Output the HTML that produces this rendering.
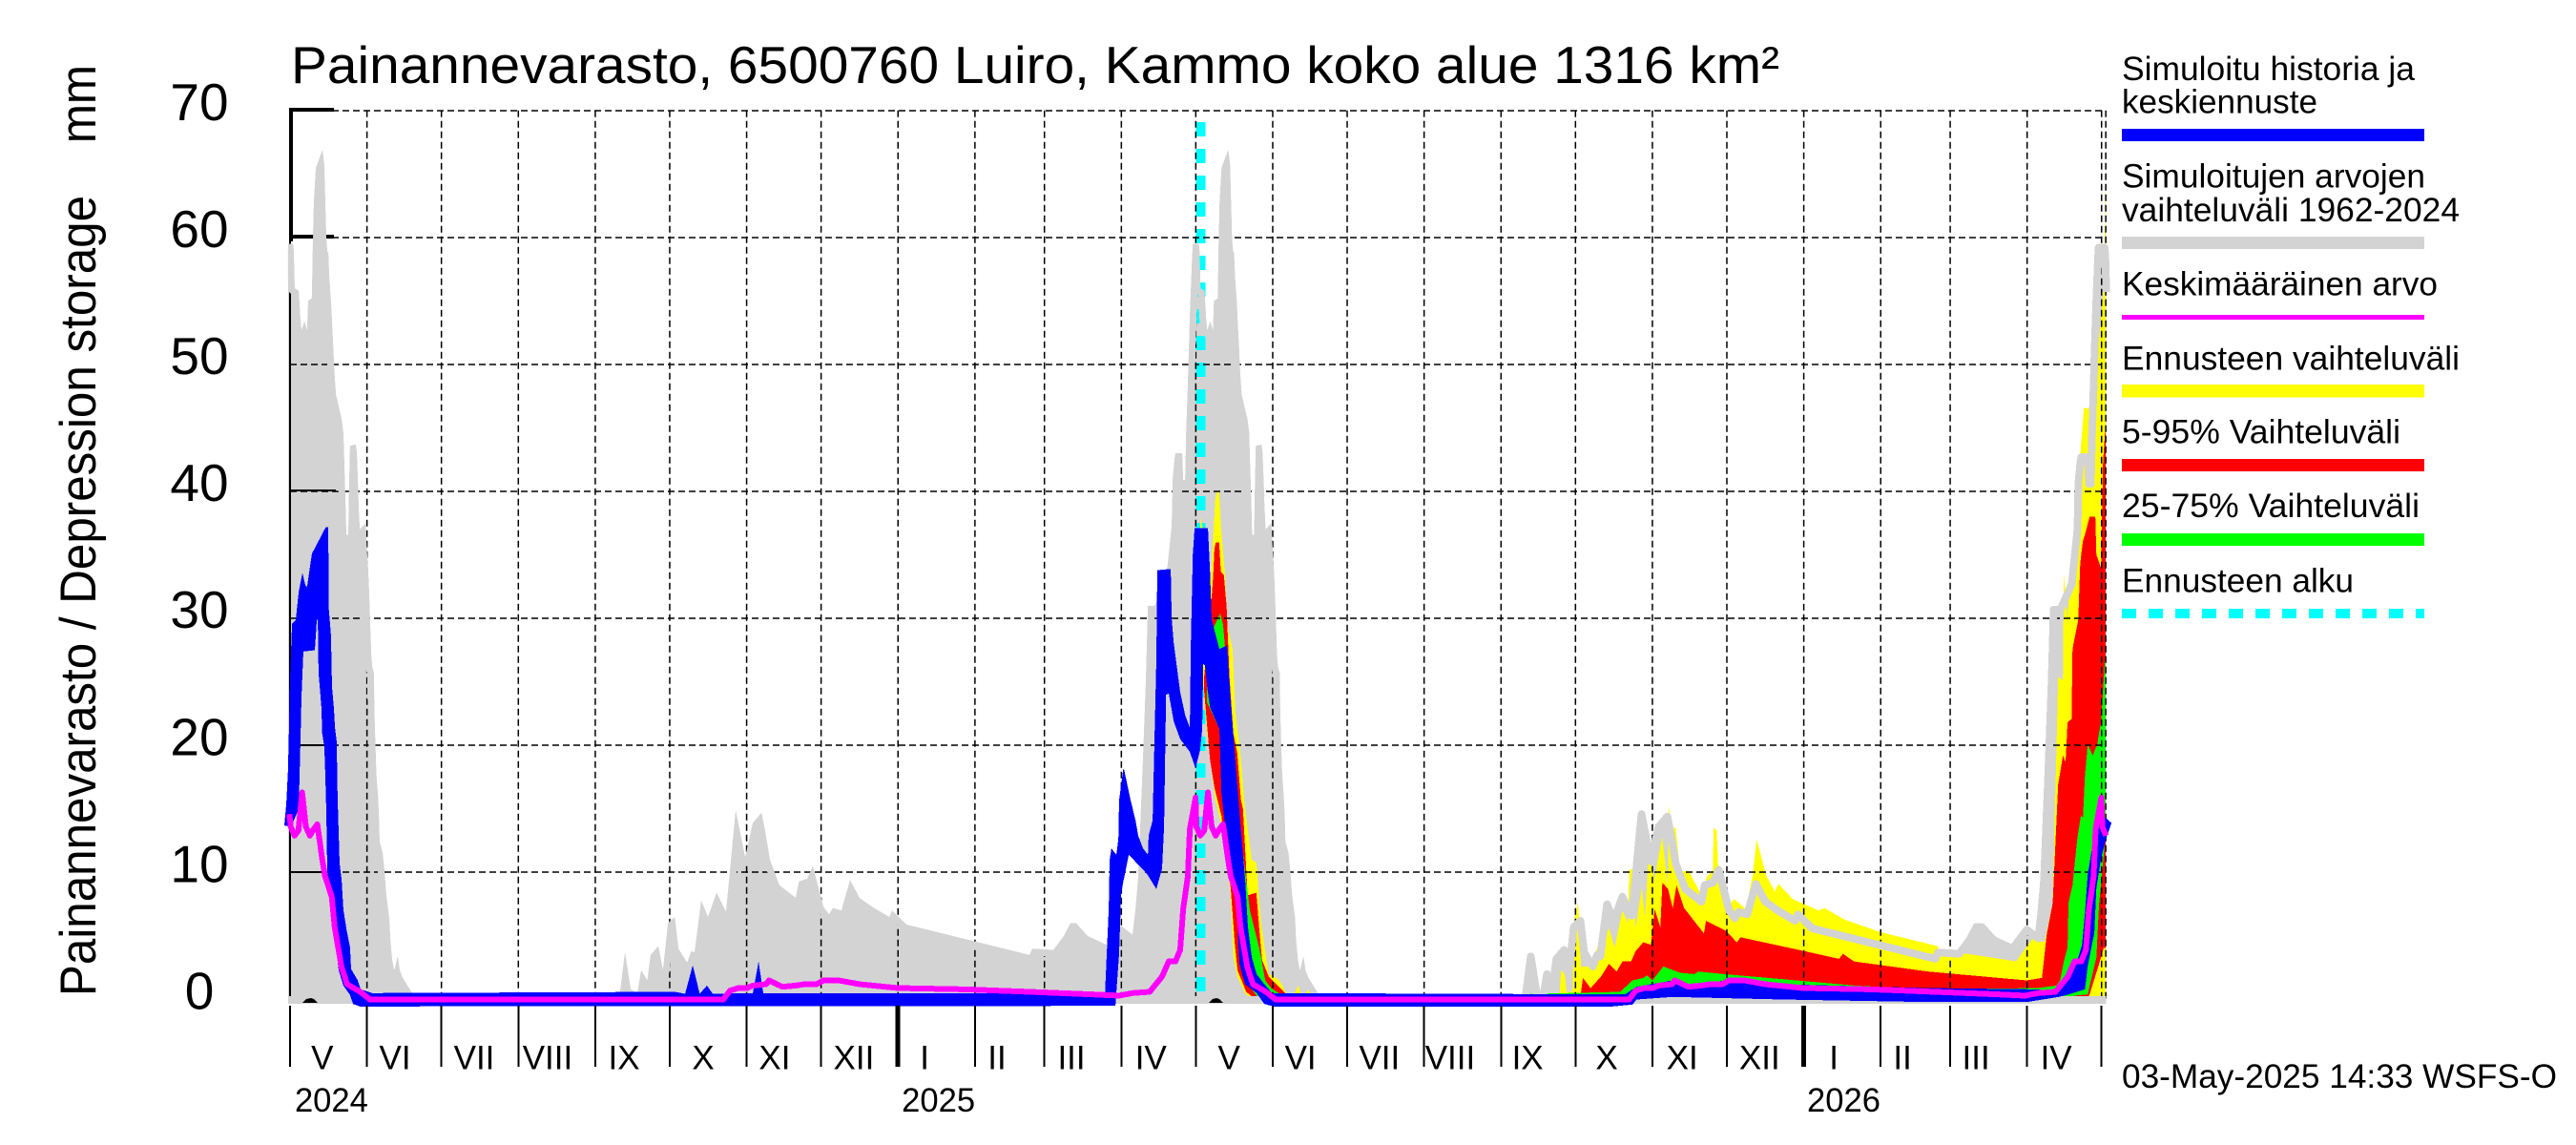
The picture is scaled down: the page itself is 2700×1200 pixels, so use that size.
<!DOCTYPE html>
<html lang="fi">
<head>
<meta charset="utf-8">
<title>Painannevarasto, 6500760 Luiro</title>
<style>
html,body{margin:0;padding:0;background:#fff;}
svg{display:block;}
text{font-family:"Liberation Sans",Arial,sans-serif;fill:#000;white-space:pre;}
.mark{shape-rendering:crispEdges;}
</style>
</head>
<body>
<svg id="chart" xmlns="http://www.w3.org/2000/svg" width="2700" height="1200" viewBox="0 0 2700 1200">
  <rect x="0" y="0" width="2700" height="1200" fill="#fff"/>
  <defs><clipPath id="climClip"><path id="climClipPath"/></clipPath></defs>

  <path id="greyFill" class="mark" fill="#d3d3d3"/>
  <line id="forecastStart" class="mark" stroke="#00ffff" stroke-width="10" stroke-dasharray="15 13"/>
  <path id="yellowFill" class="mark" fill="#ffff00"/>
  <path id="redFill" class="mark" fill="#ff0000"/>
  <path id="greenFill" class="mark" fill="#00ff00"/>
  <g id="grid"></g>
  <g id="frameMarks" class="mark" stroke="#000" fill="none">
    <line x1="304" y1="115" x2="350" y2="115" stroke-width="4"/>
    <line x1="305" y1="113" x2="305" y2="253" stroke-width="4"/>
    <line x1="304" y1="248" x2="350" y2="248" stroke-width="4"/>
    <line x1="304" y1="253" x2="304" y2="1047" stroke-width="2"/>
    <line x1="304" y1="514" x2="352" y2="514" stroke-width="2"/>
    <line x1="315" y1="781" x2="342" y2="781" stroke-width="2"/>
    <line x1="304" y1="914" x2="342" y2="914" stroke-width="2"/>
  </g>
  <path id="greyStrokeA" class="mark" clip-path="url(#climClip)" fill="none" stroke="#d3d3d3" stroke-width="14" stroke-linejoin="round"/>
  <path id="greyStrokeB" class="mark" transform="translate(0,4)" fill="none" stroke="#d3d3d3" stroke-width="8" stroke-linejoin="round"/>
  <path id="greyLow" class="mark" fill="none" stroke="#d3d3d3" stroke-width="8"/>
  <path d="M317 1051 L321 1047 L326 1046 L329 1047 L333 1051 Z" fill="#000"/>
  <path d="M1267 1051 L1271 1047 L1275 1046 L1278 1047 L1282 1051 Z" fill="#000"/>
  <path id="blueFill" class="mark" fill="#0000ff"/>
  <path id="meanLine" class="mark" fill="none" stroke="#ff00ff" stroke-width="6" stroke-linejoin="round"/>
  <g id="xTicks"></g>
  <g id="yLabels"></g>
  <g id="monthLabels"></g>
  <g id="yearLabels"></g>

  <text x="305" y="87" font-size="55" textLength="1560" lengthAdjust="spacingAndGlyphs">Painannevarasto, 6500760 Luiro, Kammo koko alue 1316 km²</text>
  <text transform="translate(100,1044) rotate(-90)" font-size="53" textLength="976" lengthAdjust="spacingAndGlyphs" xml:space="preserve">Painannevarasto / Depression storage    mm</text>
  <text x="2224" y="1140" font-size="35" textLength="456" lengthAdjust="spacingAndGlyphs">03-May-2025 14:33 WSFS-O</text>

  <g font-size="35">
    <text x="2224" y="84" textLength="307" lengthAdjust="spacingAndGlyphs">Simuloitu historia ja</text>
    <text x="2224" y="118.5" textLength="205" lengthAdjust="spacingAndGlyphs">keskiennuste</text>
    <rect x="2224" y="135" width="317" height="13" fill="#0000ff"/>
    <text x="2224" y="196.5" textLength="318" lengthAdjust="spacingAndGlyphs">Simuloitujen arvojen</text>
    <text x="2224" y="232" textLength="354" lengthAdjust="spacingAndGlyphs">vaihteluväli 1962-2024</text>
    <rect x="2224" y="248" width="317" height="13" fill="#d3d3d3"/>
    <text x="2224" y="309.5" textLength="331" lengthAdjust="spacingAndGlyphs">Keskimääräinen arvo</text>
    <rect x="2224" y="330" width="317" height="5" fill="#ff00ff"/>
    <text x="2224" y="387.5" textLength="354" lengthAdjust="spacingAndGlyphs">Ennusteen vaihteluväli</text>
    <rect x="2224" y="403" width="317" height="13.5" fill="#ffff00"/>
    <text x="2224" y="464.5" textLength="292" lengthAdjust="spacingAndGlyphs">5-95% Vaihteluväli</text>
    <rect x="2224" y="481" width="317" height="13" fill="#ff0000"/>
    <text x="2224" y="542" textLength="312" lengthAdjust="spacingAndGlyphs">25-75% Vaihteluväli</text>
    <rect x="2224" y="559" width="317" height="13" fill="#00ff00"/>
    <text x="2224" y="620.5" textLength="243" lengthAdjust="spacingAndGlyphs">Ennusteen alku</text>
    <line class="mark" x1="2224" y1="643" x2="2541" y2="643" stroke="#00ffff" stroke-width="10" stroke-dasharray="15 13"/>
  </g>
</svg>

<script>
// ---- Axis labels and ticks ----
const yTickValues = [0, 10, 20, 30, 40, 50, 60, 70];
const monthStartDays = [0, 31, 61, 92, 123, 153, 184, 214, 245, 276, 304, 335, 365, 396, 426, 457, 488, 518, 549, 579, 610, 641, 669, 700, 730];
const yearStartDays = [245, 610];
const monthLabels = ["V", "VI", "VII", "VIII", "IX", "X", "XI", "XII", "I", "II", "III", "IV", "V", "VI", "VII", "VIII", "IX", "X", "XI", "XII", "I", "II", "III", "IV"];
const monthLabelDays = [13, 42.3, 74.2, 103.8, 134.6, 166.5, 195.3, 227.2, 255.7, 284.9, 314.9, 346.9, 378.4, 407.2, 439, 467.5, 498.7, 530.6, 561, 592.2, 622.1, 649.8, 679.4, 711.7];
const yearLabels = ["2024", "2025", "2026"];
const yearLabelDays = [1.9, 246.5, 611.3];
const forecastStartDay = [367];

// ---- Climatological maximum, one annual cycle (days since 1 May) ----
const climDays = [-0.8,1.2,1.5,1.9,3.5,4.2,4.6,5.8,6.9,7.3,8.8,9.2,9.6,10.4,13.1,13.8,14.2,14.6,15,15.4,15.8,16.5,16.9,17.3,17.7,18.1,18.5,19.6,20.8,21.5,21.9,22.3,22.7,23.5,23.8,24.2,26.5,26.9,27.3,27.7,28.1,30.4,31.1,31.5,31.9,32.3,32.7,33.1,33.8,34,34.4,34.8,35.4,35.8,36.1,37.3,38.1,38.8,40,40.4,41.1,41.9,42.3,43.4,44.2,45.4,47.3,49.2,50,132.7,132.9,135,137.3,140,141.5,144,145.3,148.4,150.3,152.3,155,156.5,160,161.7,163,165.7,168.4,171.9,175.7,179.6,183.4,186.5,190,191.5,193.4,197.2,203.8,205.1,208.4,210.7,214.9,217.2,218.8,222.2,225.7,229.5,234.5,241.5,242.6,248.4,298,299.1,307.6,311.8,314.5,316.8,321.4,329.1,334.9,339.5,340.7,341.8,342.6,343.7,344.9,345.7,348.4,353,355.3,355.7,356.4,356.8,359.5,359.9,360.7,360.9,361.1,361.8,362.2,362.6,363,363.4,363.8];
const climValues = [59.5,59.5,58.9,56,55.8,53.5,52.7,53.4,52.7,55,55.2,59.5,62.8,65.5,66.9,65.7,62.8,60,58.9,58.8,56.9,55,53.3,51.8,50.1,48.7,47.6,46.7,45.7,44.6,42,39.4,36.6,36.6,40.3,43.6,43.7,43.1,41,38.7,37,37.5,35,33.8,31.9,29.6,27.2,26.2,25.7,22.8,20,17.7,16.1,14.6,12.4,11.6,10,8.2,6.4,4.7,3.2,2.3,2.5,3.4,2.3,1.7,1.1,0.5,0,0,0.5,3.7,0.8,0.5,2.3,1.5,3.5,4.2,2.3,6,6.5,4,2.9,3.8,3.7,7.8,6.5,8.4,6.9,14.9,11.2,13.9,14.7,13.2,11,9,8,9.3,9.5,10.5,7.3,6.7,7.2,7,9.4,8,7.3,6.5,7,5.9,3.5,4,3.9,5,6,6,5,4.3,5.8,5.1,7.1,9.7,13.6,18.9,25.3,31,31,33,37.3,41,42.5,43,43,40.9,40.9,42.7,44.5,48.5,51.2,53.8,55.9,57.9,59.5];
const climFloorDays = [-0.8, 731.9];
const climFloorValues = [-0.26, -0.26];
const climLowDays = [-0.8, 731.9];
const climLowValues = [-0.05, -0.05];

// ---- Mean value, one annual cycle ----
const meanDays = [-0.3,0.3,1.8,3.4,4.9,6.4,8,9.5,11,13,14.1,16.8,18,20.7,23,28.3,32.2,174.6,177.3,180.7,184.2,186.5,191.9,193,198.4,203.8,207.2,212.2,214.9,221.1,229.5,244.9,272.2,298,323.7,334.1,339.5,346.4,351.4,354.1,356.8,358.7,359.9,361.8,362.6,364.9];
const meanValues = [14.6,13.6,12.9,13.3,16.3,13.6,12.9,13.4,13.8,11,9.7,8.1,5.7,2.6,1.2,0.6,0,0,0.7,0.9,0.9,1.1,1.2,1.5,1,1.1,1.2,1.2,1.5,1.5,1.2,0.9,0.8,0.6,0.4,0.3,0.5,0.6,1.8,3,3,3.9,7.1,9.7,13.4,15.9];

// ---- Simulated history + median forecast (upper and lower edge) ----
const blueTopDays = [-2.3,-1.5,-0.8,-0.4,0,0.8,2.3,3.5,5,6.2,6.9,8.8,14.4,15.4,15.6,16.5,16.9,17.7,18.1,18.8,19.2,20,20.8,21.5,22.7,24.2,24.6,27.3,28.5,33.1,155,159.2,162.3,165.1,168,170.3,186.5,188.8,190.7,328.4,329.9,330.3,331,333,333.8,334.1,335.7,336.1,338.7,340.7,341.8,343.7,345.7,346,347.6,348.4,349.1,349.5,354.9,355.3,356.1,358.7,360.7,362.6,363,363.8,364.5,369.9,370.7,371.4,374.5,377.6,379.1,380.7,382.2,383.7,384.9,386,387.6,389.5,392.6,395.8,537.9,542.6,557.3,564.6,579.1,601.4,659.8,704.4,711,712.5,714.8,718.3,720.6,722.1,723.3,724.4,726,727.9,731.7,734];
const blueTopValues = [13.7,15.4,18.1,21.7,25.2,29.6,29.9,32.1,33.6,32.6,32.5,35.1,37.2,37.2,30.8,28.7,24.6,22.9,21.4,20.3,15.8,10.7,9.4,7.1,5.6,4.1,2.4,1.5,0.8,0.5,0.6,0.45,2.7,0.45,1.1,0.45,0.5,3,0.5,0.5,7.1,11,11.9,11.4,12.6,15.7,18.1,18.1,15.7,14.1,12.9,11.9,11.4,12.9,14.1,21,26.8,33.8,33.9,30,28.1,24.2,22.4,21.4,28.1,35,37.1,37.1,33.8,29.9,27.6,27.9,23.5,19.4,15.7,12.2,9.4,5.7,3.3,2,1.2,0.5,0.4,1,1.5,1.2,1.5,1.2,0.9,0.8,0.6,1.1,1.5,2.8,3.3,4.3,6.8,9.8,11.7,13.5,14.3,13.9];
const blueLowDays = [-2.3,0.4,3.5,4.2,4.6,5.4,10,10.8,11.2,11.5,12.7,12.9,13.8,14.2,14.6,15,15.8,19.6,21.5,24.2,25.4,28.1,332.6,334.1,334.9,335.7,338,345.3,349.1,351.4,352.2,353,354.1,356.1,358.7,362.6,364.9,366.8,367.6,368,368.7,369.5,370.7,374.5,375.3,376.8,379.1,380.3,381.8,382.6,384.9,389.5,392.6,396.4,532.9,541,542.6,557.3,601.4,660,699.8,712.8,716.7,723.3,724.4,727.1,727.9,729.8,731.7,734];
const blueLowValues = [13.7,13.6,15,20.2,23.8,27.4,27.5,29.9,29.9,25.7,22.9,21,19.9,17.8,14.8,10.3,8.3,2.3,1.1,0.35,-0.35,-0.55,-0.5,3.6,8.3,9.2,11.4,9.9,8.7,10.3,13.6,24,24.1,21.9,20.5,19.5,18.2,19.7,21.3,26.4,26.3,24.7,23,21.3,16.3,13.6,9.4,8.9,5.8,2.8,1.2,0.5,-0.35,-0.55,-0.55,-0.4,0,0.2,0,-0.2,-0.2,0.2,0.4,0.8,2.6,5.3,8.8,11.1,12.6,13.9];

// ---- Forecast full range ----
const yellowHighDays = [366.8,367.9,369,371.1,372.9,373.6,374.4,374.8,375.1,376.7,377.9,379.8,380.9,382.9,384.8,387.5,389.4,391.3,393.3,394.4,398.2,400.2,401.3,403,404.2,406.3,407.5,409,410.4,412,511.4,511.6,512.2,513.7,514.5,516.8,517.5,519,519.6,520.2,523.3,527.2,531.5,533.8,536.9,539.2,539.6,541.8,542.2,544.7,546,547.5,549.9,552.9,555.2,555.6,557.1,558.3,560.2,563.7,569,571,573.3,573.7,574.9,575.6,578.7,582.1,586.7,589.4,591,594.8,598.3,599.8,605.6,616,618.3,626.3,641,664,665,675.7,695.6,702.2,707,710.3,711,711.8,712.5,714.4,714.8,716.3,717.9,719.4,720.2,722.9,726,726.1,726.8,729,730.9,731.3,731.7];
const yellowHighValues = [38,37,30,33.4,39.5,40,40,38.4,37.4,33.5,29.2,27.6,22.7,19.4,15,11,10.8,6,3.3,2,1.6,1,0.5,0.1,0.2,1.1,0.3,0.3,0.9,0.2,0.2,0.5,2.3,2,0.5,0.7,6.3,7.6,6,2.6,2.6,4.2,5.6,4.1,7,6,10.2,10.2,5.6,8.8,6.5,11.3,9.5,12.8,9,15.2,13.3,13.6,10.1,10.1,8.1,9.7,10.1,13.5,13.3,10.1,7.3,7.9,7.1,9.8,12.6,9.8,8.5,9.1,7.9,7,7.2,6.3,5.3,4.2,3.5,3.6,3,4.8,4.5,7.6,13.3,19.6,25.4,25.1,33.4,30,35.1,38.7,39.9,46.6,46.5,47.9,50.4,52,56,60,66];
const yellowLowDays = [366.8,367.9,368.4,369.5,372.9,374.8,379,380.2,381.7,384.8,387.5,731.7];
const yellowLowValues = [26,25,23.7,21,15.7,14.2,8.4,3.3,1.8,0.5,0,0];

// ---- Forecast 5-95 % range ----
const redHighDays = [368.4,370,371.5,372,372.5,373.1,374.4,375.1,376.3,377.4,378.6,380.1,381.7,383.2,384,385.9,389.4,390.5,391.7,394.4,397.5,401,403,520.2,521,524.1,528.3,531.5,534.6,536.9,540.4,542.2,545.3,548.4,549.9,552.2,553,555.3,557.2,558.7,561.8,569.8,570.6,578.7,583,584.5,610.4,624.2,625.8,630.2,660,699.8,706,707.9,710.3,712.5,714.4,715.5,716.3,717.9,718.3,720.6,721.4,722.5,723.3,725.2,727.5,727.9,729.8,730.6,731.7];
const redHighValues = [25.5,29,32,33.4,35.5,36,36,33.7,33.4,31,25.3,21,19.4,15.7,15,8.2,8.4,5.7,3.1,1.8,1.2,0.5,0,0.5,1.7,0.9,1.8,2.8,2.2,3,3,3.8,4.5,4.3,7.1,5.7,9.2,8.7,7.2,9,7.2,5.2,6.2,5.4,4.5,4.9,3.8,3.2,3.6,3,2.2,1.5,1.7,5.1,7.6,16.9,19.2,18.7,21.8,22.1,27.6,29.9,34.4,36.1,36.6,38,38,35,34,42.4,45.6];
const redLowDays = [368.4,370.7,372.6,375.3,379.1,380.7,381.8,385.3,389.1,724,725.2,729,730.9,731.7];
const redLowValues = [24.2,18.9,16.6,14.5,8.7,4.4,2.3,0.6,0,0,0.4,2.8,4.1,4];

// ---- Forecast 25-75 % range ----
const greenHighDays = [369.5,372,374.8,376,376.8,379.1,381.8,383.7,386.8,390.6,393,395.3,400,402,536,541,545.3,546.9,549,553.4,560.2,565.9,567.5,577.9,601.4,630.6,660,704.4,711.8,713.3,714.8,716.3,716.7,718.3,720.2,721.7,722.5,723.3,724.4,726.4,728.3,729,729.8,731.3,731.7];
const greenHighValues = [25.5,29.2,30.4,29.5,27.6,22,16,12,7,4,1.5,0.9,0.3,0,0.6,1.5,1.7,1.9,1.5,2.6,2.1,2,2.2,2,1.6,1.1,0.8,0.9,1.1,1.5,3,4.1,7.6,9,12.6,14.5,14.3,17.6,20.1,19.2,20.1,21,21.8,26.6,27];
const greenLowDays = [369.5,374.5,376.8,379.1,382.9,386.8,390.6,718.3,719,724.4,727.9,729,730.2,731.7];
const greenLowValues = [23.4,21.3,18,13,5,1,0,0,0.3,0.4,3.3,7.5,10,13.3];

// ---- Axis functions ----
function xScale(day) { return 304 + 2.601 * day; }
function yScale(value) { return 1047.5 - 13.31 * value; }

function linePath(days, values) {
  return days.map(function (d, i) {
    return (i ? "L" : "M") + xScale(d).toFixed(1) + " " + yScale(values[i]).toFixed(1);
  }).join(" ");
}
function bandPath(hiDays, hiValues, loDays, loValues) {
  var loD = loDays.slice().reverse();
  var loV = loValues.slice().reverse();
  return linePath(hiDays.concat(loD), hiValues.concat(loV)) + " Z";
}
function repeatCycle(days, values, skipFirst, maxDay) {
  var outDays = [], outValues = [];
  for (var k = 0; k < 3; k++) {
    for (var i = 0; i < days.length; i++) {
      if (k > 0 && i < skipFirst) continue;
      var d = days[i] + k * 365;
      if (d <= maxDay) { outDays.push(d); outValues.push(values[i]); }
    }
  }
  return { days: outDays, values: outValues };
}
function setD(id, d) { document.getElementById(id).setAttribute("d", d); }

// ---- Series ----
var clim = repeatCycle(climDays, climValues, 0, 731.95);
var climFill = bandPath(clim.days, clim.values, climFloorDays, climFloorValues);
setD("greyFill", climFill);
setD("climClipPath", climFill);
var splitIndex = clim.days.findIndex(function (d) { return d >= 430; });
setD("greyStrokeA", linePath(clim.days.slice(0, splitIndex + 1), clim.values.slice(0, splitIndex + 1)));
setD("greyStrokeB", linePath(clim.days.slice(splitIndex), clim.values.slice(splitIndex)));
setD("greyLow", linePath(climLowDays, climLowValues));
setD("yellowFill", bandPath(yellowHighDays, yellowHighValues, yellowLowDays, yellowLowValues));
setD("redFill", bandPath(redHighDays, redHighValues, redLowDays, redLowValues));
setD("greenFill", bandPath(greenHighDays, greenHighValues, greenLowDays, greenLowValues));
setD("blueFill", bandPath(blueTopDays, blueTopValues, blueLowDays, blueLowValues));
var mean = repeatCycle(meanDays, meanValues, 1, 731.85);
setD("meanLine", linePath(mean.days, mean.values));

var fs = document.getElementById("forecastStart");
fs.setAttribute("x1", xScale(forecastStartDay[0]));
fs.setAttribute("x2", xScale(forecastStartDay[0]));
fs.setAttribute("y1", yScale(70) + 12);
fs.setAttribute("y2", yScale(0) - 4);

// ---- Grid ----
var svgNS = "http://www.w3.org/2000/svg";
var gridGroup = document.getElementById("grid");
yTickValues.forEach(function (v) {
  var ln = document.createElementNS(svgNS, "line");
  
  
  ln.setAttribute("x1", xScale(0));
  ln.setAttribute("x2", 2207);
  ln.setAttribute("y1", Math.round(yScale(v)));
  ln.setAttribute("y2", Math.round(yScale(v)));
  ln.setAttribute("stroke", "#000");
  ln.setAttribute("stroke-width", "1.5");
  ln.setAttribute("stroke-dasharray", "7 4");
  if (v > 0) gridGroup.appendChild(ln);
});
monthStartDays.concat([731.7]).forEach(function (d) {
  var ln = document.createElementNS(svgNS, "line");
  
  
  ln.setAttribute("x1", xScale(d));
  ln.setAttribute("x2", xScale(d));
  ln.setAttribute("y1", yScale(70));
  ln.setAttribute("y2", yScale(0));
  ln.setAttribute("stroke", "#000");
  ln.setAttribute("stroke-width", "1.5");
  ln.setAttribute("stroke-dasharray", "7 4");
  gridGroup.appendChild(ln);
});

// ---- X ticks ----
var tickGroup = document.getElementById("xTicks");
monthStartDays.forEach(function (d) {
  var isYear = yearStartDays.indexOf(d) >= 0;
  var ln = document.createElementNS(svgNS, "line");
  
  
  ln.setAttribute("class", "mark");
  ln.setAttribute("x1", xScale(d));
  ln.setAttribute("x2", xScale(d));
  ln.setAttribute("y1", 1054);
  ln.setAttribute("y2", 1118);
  ln.setAttribute("stroke", "#000");
  ln.setAttribute("stroke-width", isYear ? 5 : 2);
  tickGroup.appendChild(ln);
});

// ---- Labels ----
var yGroup = document.getElementById("yLabels");
yTickValues.forEach(function (v) {
  var t = document.createElementNS(svgNS, "text");
  
  
  t.setAttribute("x", 209);
  t.setAttribute("y", yScale(v) + 10);
  t.setAttribute("font-size", "55");
  t.setAttribute("text-anchor", "middle");
  t.textContent = String(v);
  yGroup.appendChild(t);
});
var mGroup = document.getElementById("monthLabels");
monthLabels.forEach(function (label, i) {
  var t = document.createElementNS(svgNS, "text");
  
  
  t.setAttribute("x", xScale(monthLabelDays[i]));
  t.setAttribute("y", 1120.5);
  t.setAttribute("font-size", "35");
  t.setAttribute("text-anchor", "middle");
  t.textContent = label;
  mGroup.appendChild(t);
});
var yrGroup = document.getElementById("yearLabels");
yearLabels.forEach(function (label, i) {
  var t = document.createElementNS(svgNS, "text");
  
  
  t.setAttribute("x", xScale(yearLabelDays[i]));
  t.setAttribute("y", 1165);
  t.setAttribute("font-size", "35");
  t.setAttribute("textLength", "77");
  t.setAttribute("lengthAdjust", "spacingAndGlyphs");
  t.textContent = label;
  yrGroup.appendChild(t);
});
</script>
</body>
</html>
